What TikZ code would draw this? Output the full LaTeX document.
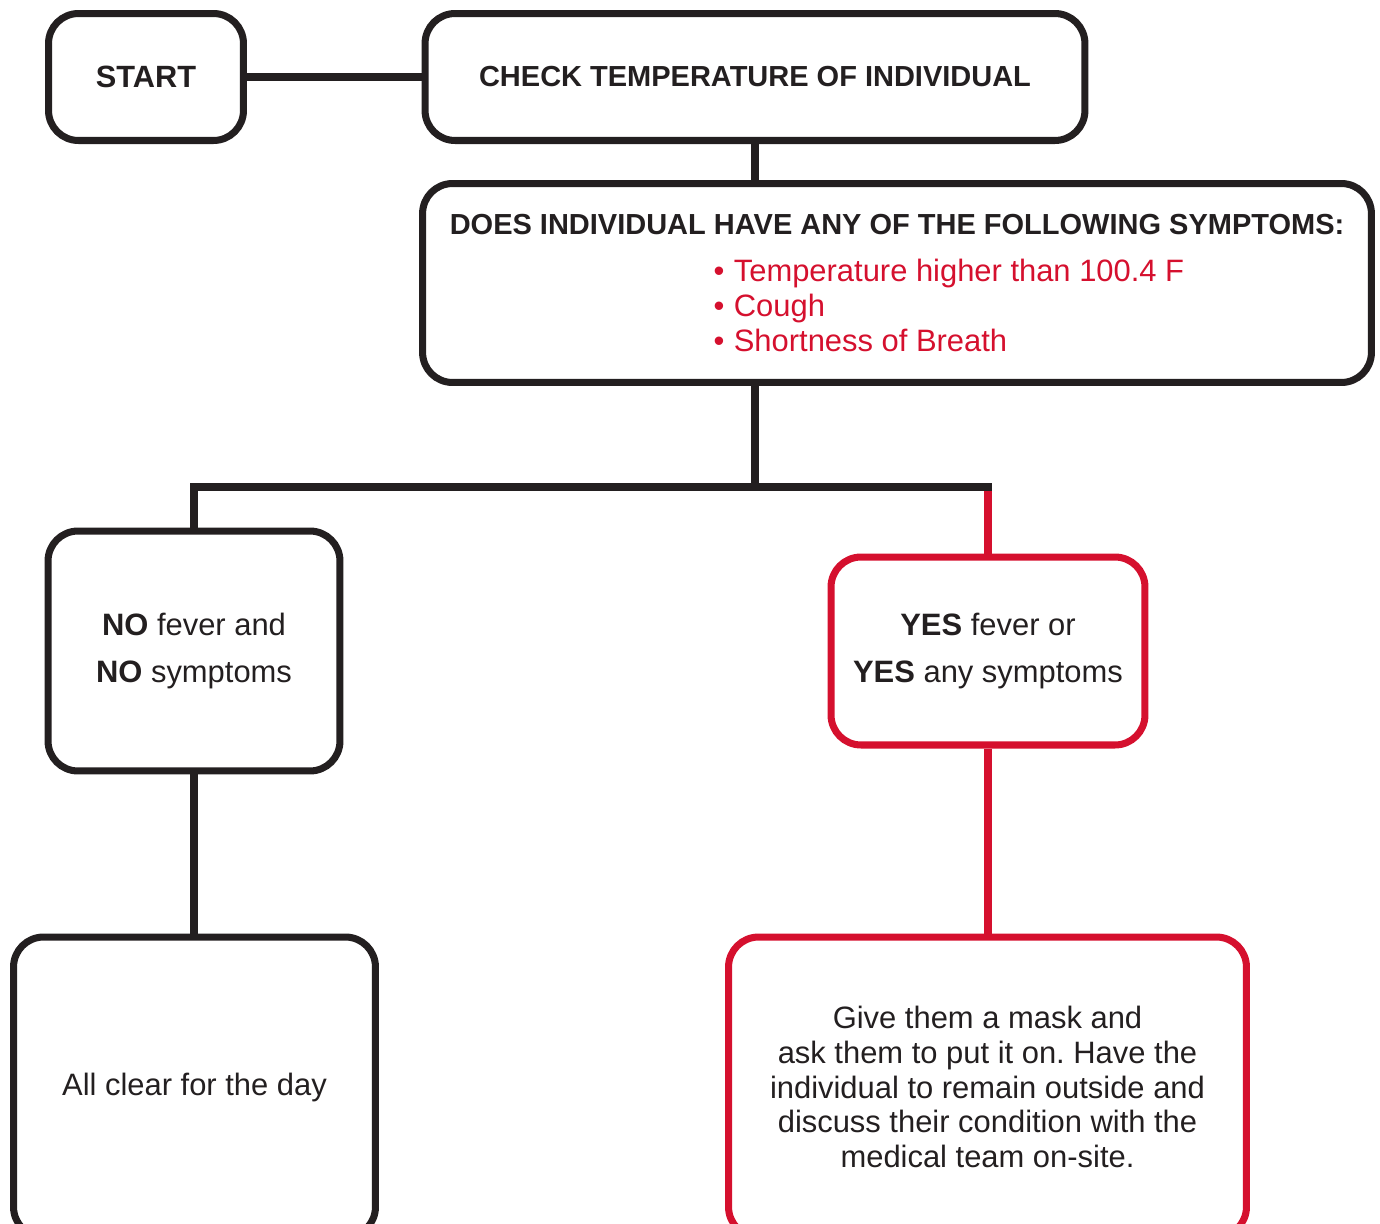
\documentclass[tikz,border=0pt]{standalone}
\usepackage{fontspec}
\setmainfont{Liberation Sans}
\frenchspacing
\usetikzlibrary{positioning}
\definecolor{dfdark}{RGB}{35,31,32}
\definecolor{dfred}{RGB}{213,16,46}
\tikzstyle{stepbox} = [rectangle, rounded corners=0.6cm, draw=dfdark, line width=4pt, align=center, text=dfdark, font=\fontsize{17.6}{19.8}\selectfont]
\tikzstyle{redbox} = [stepbox, draw=dfred]
\tikzstyle{headtext} = [font=\fontsize{16.5}{19}\selectfont\bfseries]
\tikzstyle{link} = [line width=4pt, draw=dfdark]
\tikzstyle{redlink} = [link, draw=dfred]

\begin{document}
\begin{tikzpicture}[x=0.02cm, y=-0.02cm]
\useasboundingbox (0,0) rectangle (1380,1224);
% Top row
\node (start) [stepbox, headtext, font=\fontsize{17.5}{19}\selectfont\bfseries, minimum width=3.9cm, minimum height=2.54cm] at (146,77) {START};
\node (check) [stepbox, headtext, minimum width=13.2cm, minimum height=2.54cm] at (755,77) {CHECK TEMPERATURE OF INDIVIDUAL};
\node (symptoms) [stepbox, align=left, minimum width=18.98cm, minimum height=3.98cm] at (897,283) {{\fontsize{16.5}{19}\selectfont\bfseries DOES INDIVIDUAL HAVE ANY OF THE FOLLOWING SYMPTOMS:}\\[7pt]
\hspace*{5.28cm}\textcolor{dfred}{\textbullet\hspace{0.3em}Temperature higher than 100.4 F}\\
\hspace*{5.28cm}\textcolor{dfred}{\textbullet\hspace{0.3em}Cough}\\
\hspace*{5.28cm}\textcolor{dfred}{\textbullet\hspace{0.3em}Shortness of Breath}};

% Answers
\node (nobox) [stepbox, minimum width=5.84cm, minimum height=4.8cm] at (194,651) {\textbf{NO} fever and\\[7.5pt]\textbf{NO} symptoms};
\node (yesbox) [redbox, minimum width=6.28cm, minimum height=3.76cm] at (988,651) {\textbf{YES} fever or\\[7.5pt]\textbf{YES} any symptoms};
\node (clearbox) [stepbox, minimum width=7.24cm, minimum height=6cm] at (194.5,1087) {All clear for the day};
\node (givebox) [redbox, minimum width=10.36cm, minimum height=6cm] at (987.5,1087) {Give them a mask and\\ask them to put it on. Have the\\individual to remain outside and\\discuss their condition with the\\medical team on-site.};

% Connectors
\coordinate (split) at (755,487);
\draw[redlink] (yesbox.north |- split) -- (yesbox.north);
\draw[link] (start) -- (check);
\draw[link] (check.south) -- (check.south |- symptoms.north);
\draw[link] (symptoms.south -| split) -- (split);
\draw[link, line cap=rect] (nobox.north) |- (yesbox.north |- split);
\draw[link] (nobox.south) -- (nobox.south |- clearbox.north);
\draw[redlink] (yesbox.south) -- (yesbox.south |- givebox.north);
\end{tikzpicture}
\end{document}
